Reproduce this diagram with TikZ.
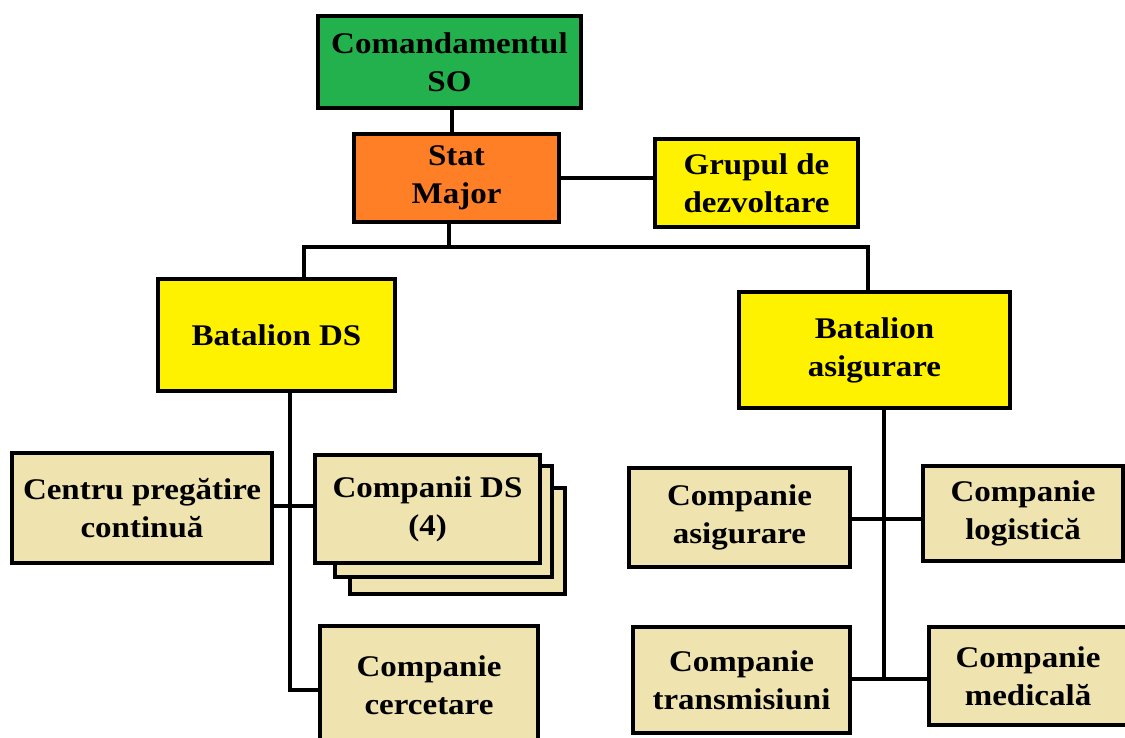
\documentclass[tikz,border=0pt]{standalone}
\usepackage{fontspec}
\setmainfont{Liberation Serif}[FakeStretch=1.1]
\usepackage{tikz}

\definecolor{cmdgreen}{HTML}{22B14C}
\definecolor{staforange}{HTML}{FF7F27}
\definecolor{batyellow}{HTML}{FFF200}
\definecolor{unittan}{HTML}{EFE4B0}

\begin{document}
\begin{tikzpicture}[x=1pt, y=-1pt,
    box/.style={draw=black, line width=4pt, align=center, inner sep=0pt,
        font=\bfseries\fontsize{30}{38}\selectfont},
    unit/.style={box, fill=unittan},
    link/.style={line width=4pt}]
    \clip (0,0) rectangle (1125,738);

    % Command and staff
    \node[box, fill=cmdgreen, minimum width=263pt, minimum height=92pt] (cmd) at (449.5,62) {Comandamentul\\SO};
    \node[box, fill=staforange, minimum width=205pt, minimum height=88pt] (stat) at (456.5,178) {Stat\\Major};
    \node[box, fill=batyellow, minimum width=203pt, minimum height=88pt] (grup) at (756.5,183) {Grupul de\\dezvoltare};

    % Battalions
    \node[box, fill=batyellow, minimum width=237pt, minimum height=112pt] (batds) at (276.5,335) {Batalion DS};
    \node[box, fill=batyellow, minimum width=271pt, minimum height=116pt] (batas) at (874.5,350) {Batalion\\asigurare};

    % Stacked companies (4)
    \foreach \xa/\ya/\xb/\yb in {350/488/565/594, 335/466/552/577} {
        \draw[line width=4pt, fill=unittan] (\xa,\ya) rectangle (\xb,\yb);
    }

    % Left units
    \node[unit, minimum width=260pt, minimum height=110pt] (centru) at (142,508) {Centru pregătire\\continuă};
    \node[unit, minimum width=225pt, minimum height=108pt] (compds) at (427.5,509) {Companii DS\\(4)};
    \node[unit, minimum width=218pt, minimum height=118pt] (cerc) at (429,685) {Companie\\cercetare};

    % Right units
    \node[unit, minimum width=221pt, minimum height=99pt] (compas) at (739.5,517.5) {Companie\\asigurare};
    \node[unit, minimum width=200pt, minimum height=95pt] (complog) at (1023,513.5) {Companie\\logistică};
    \node[unit, minimum width=217pt, minimum height=106pt] (comptr) at (741.5,680) {Companie\\transmisiuni};
    \node[unit, minimum width=198pt, minimum height=98pt] (compmed) at (1028,676) {Companie\\medicală};

    % Links
    \coordinate (bus) at (449,247);
    \draw[link] ([xshift=2.5pt]cmd.south) -- ([xshift=2.5pt]cmd.south |- stat.north);
    \draw[link] ([yshift=0pt]stat.east) -- (stat.east -| grup.west);
    \draw[link] (stat.south -| bus) -- (bus);
    \draw[link] ([xshift=27.5pt]batds.north) |- ([xshift=-6.5pt]batas.north |- bus) -- ([xshift=-6.5pt]batas.north);

    \coordinate (lbot) at (290,690);
    \draw[link] (batds.south -| lbot) -- (lbot) -- (lbot -| cerc.west);
    \draw[link] ([yshift=2pt]centru.east) -- ([yshift=2pt]centru.east -| compds.west);

    \coordinate (rbot) at (884,679);
    \draw[link] (batas.south -| rbot) -- (rbot);
    \draw[link] ([yshift=-1.5pt]compas.east) -- ([yshift=-1.5pt]compas.east -| complog.west);
    \draw[link] (comptr.east |- rbot) -- (compmed.west |- rbot);
\end{tikzpicture}
\end{document}
